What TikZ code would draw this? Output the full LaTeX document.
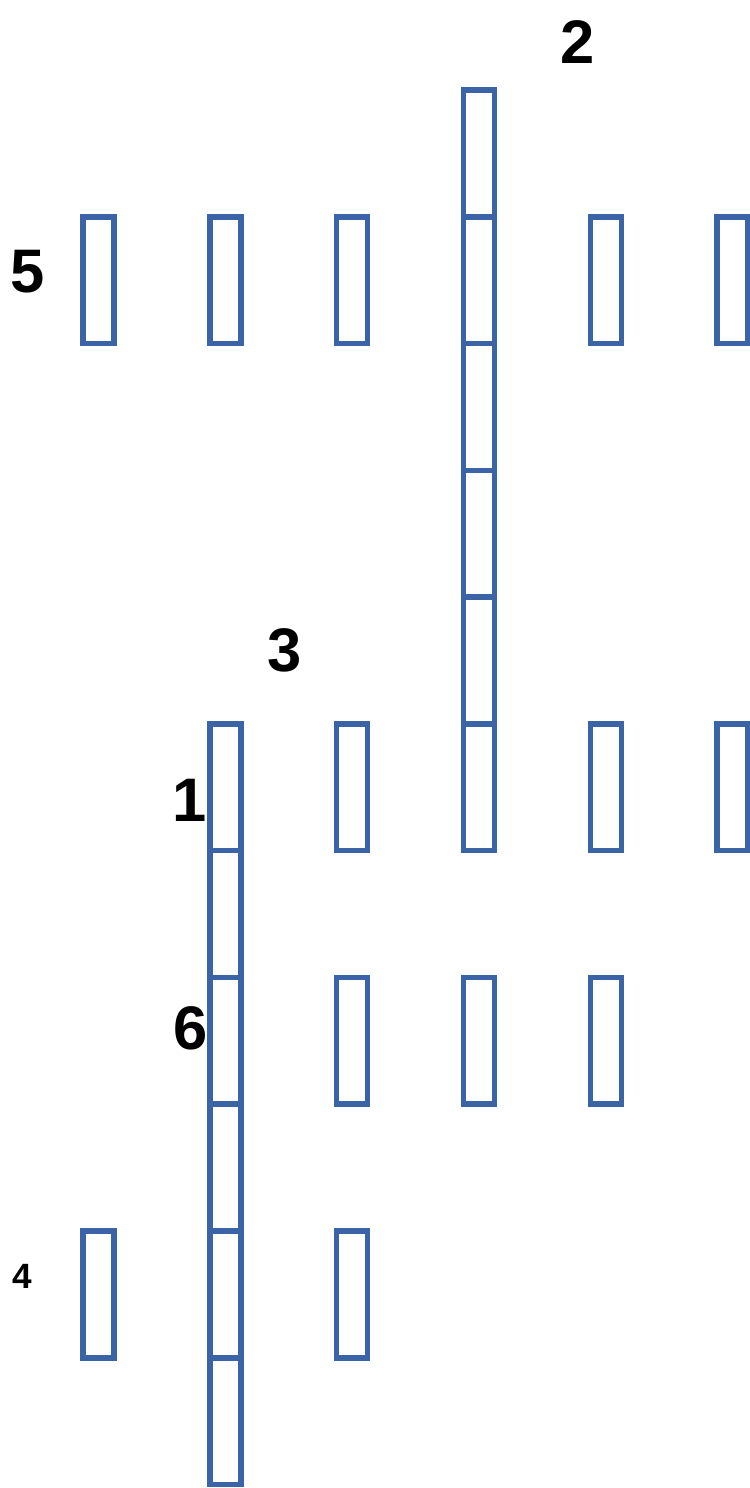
\documentclass[tikz,border=0pt]{standalone}
\usepackage{fontspec}
\setmainfont{Liberation Sans}
\usetikzlibrary{positioning}
\definecolor{cellblue}{RGB}{58,100,166}

\begin{document}
\begin{tikzpicture}[x=0.02cm, y=-0.02cm, node distance=1.916cm,
  cell/.style={draw=cellblue, line width=0.11cm, rectangle, outer sep=0pt, inner sep=0pt, minimum width=0.62cm, minimum height=2.536cm},
  biglabel/.style={font=\fontsize{35}{35}\selectfont\bfseries, inner sep=0pt},
  smalllabel/.style={font=\fontsize{20}{20}\selectfont\bfseries, inner sep=0pt}]
\useasboundingbox (0,0) rectangle (750,1488);
% long column on the right
\node[cell] (tall1) at (479,153.4) {};
\node[cell] (tall2) [below=0pt of tall1] {};
\node[cell] (tall3) [below=0pt of tall2] {};
\node[cell] (tall4) [below=0pt of tall3] {};
\node[cell] (tall5) [below=0pt of tall4] {};
\node[cell] (tall6) [below=0pt of tall5] {};
% top row
\node[cell] (top3) [left=of tall2] {};
\node[cell] (top2) [left=of top3] {};
\node[cell] (top1) [left=of top2] {};
\node[cell] (top5) [right=of tall2] {};
\node[cell] (top6) [right=of top5] {};
% middle row
\node[cell] (mid3) [left=of tall6] {};
\node[cell] (low1) [left=of mid3] {};
\node[cell] (mid5) [right=of tall6] {};
\node[cell] (mid6) [right=of mid5] {};
% long column on the left
\node[cell] (low2) [below=0pt of low1] {};
\node[cell] (low3) [below=0pt of low2] {};
\node[cell] (low4) [below=0pt of low3] {};
\node[cell] (low5) [below=0pt of low4] {};
\node[cell] (low6) [below=0pt of low5] {};
% rows beside it
\node[cell] (row3a) [right=of low3] {};
\node[cell] (row3b) [right=of row3a] {};
\node[cell] (row3c) [right=of row3b] {};
\node[cell] (row5a) [left=of low5] {};
\node[cell] (row5b) [right=of low5] {};
% numbers
\node[biglabel] (lab2) at (578,42) {2};
\node[biglabel] (lab5) at (28,272) {5};
\node[biglabel] (lab3) at (285,650) {3};
\node[biglabel] (lab1) at (190,800) {1};
\node[biglabel] (lab6) at (191,1028) {6};
\node[smalllabel] (lab4) at (22,1276) {4};
\end{tikzpicture}
\end{document}
